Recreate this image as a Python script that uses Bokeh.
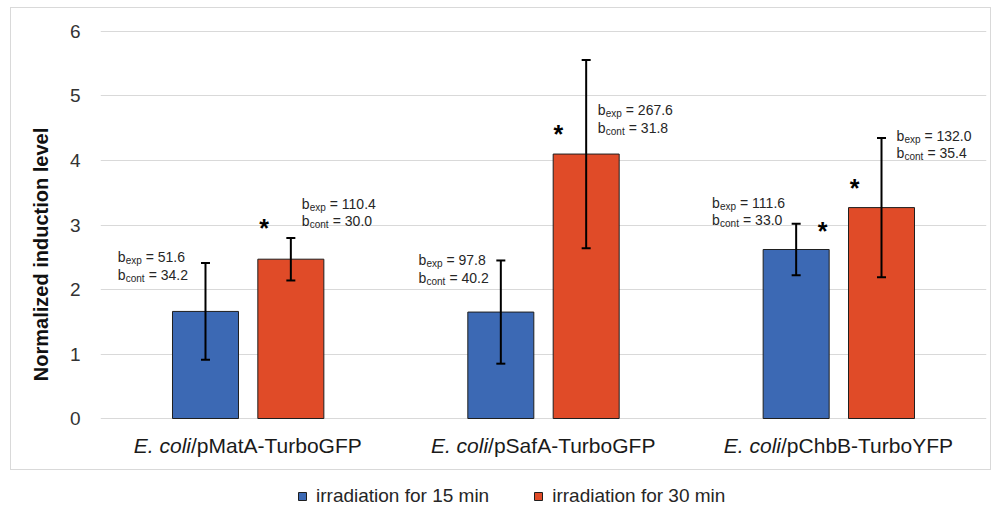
from bokeh.plotting import figure
from bokeh.models import (Range1d, FixedTicker, ColumnDataSource, Whisker, TeeHead,
                          Legend, LegendItem, InlineStyleSheet)
from bokeh.core.properties import value
from bokeh.embed import file_html
from bokeh.resources import INLINE

# ---------------- data ----------------
species = "E. coli"
strains = ["/pMatA-TurboGFP", "/pSafA-TurboGFP", "/pChbB-TurboYFP"]
series = ["irradiation for 15 min", "irradiation for 30 min"]
y_ticks = [0, 1, 2, 3, 4, 5, 6]

mean_15 = [1.66, 1.65, 2.62]
err_15 = [0.75, 0.80, 0.40]
mean_30 = [2.47, 4.10, 3.27]
err_30 = [0.33, 1.46, 1.08]

bexp_15 = [51.6, 97.8, 111.6]
bcont_15 = [34.2, 40.2, 33.0]
bexp_30 = [110.4, 267.6, 132.0]
bcont_30 = [30.0, 31.8, 35.4]

signif_15 = [False, False, True]
signif_30 = [True, True, True]

# ---------------- layout / style ----------------
FONT = "Liberation Sans"
BLUE = "#3C69B4"
RED = "#E04B28"
BAR_W = 0.2235
BAR_SHIFT = 0.1445
Y_VIEW = (-1.3953, 6.4806)      # frame spans whole height; 0..6 lie at 418..31 px
# annotation pixel offsets relative to (bar centre, error-bar top)
ann_dx_15 = [-87.8, -82.4, -84.1]
ann_dy_15 = [-5.9, 0.0, -21.2]
ann_dx_30 = [10.9, 11.6, 14.9]
ann_dy_30 = [-34.4, 50.6, -2.4]
star_dx_15 = [0, 0, 26.5]
star_dy_15 = [0, 0, -7.2]
star_dx_30 = [-26.8, -27.7, -26.8]
star_dy_30 = [-24.0, 60.6, 35.9]
split_dx = [-57.2, -55.4, -57.8]

p = figure(width=1000, height=508, x_range=Range1d(0, 3), y_range=Range1d(*Y_VIEW),
           output_backend="svg", toolbar_location=None,
           min_border_left=100, min_border_right=14, min_border_top=0, min_border_bottom=0,
           background_fill_color="white", border_fill_color="white", outline_line_color=None)

# outer light-grey frame around the chart area (not the legend)
p.stylesheets = [InlineStyleSheet(css=(
    ":host{position:relative;}"
    ":host::after{content:'';position:absolute;left:10px;top:7px;width:981px;height:463px;"
    "border:1px solid #d9d9d9;box-sizing:border-box;pointer-events:none;}"))]

p.xaxis.visible = False
p.xgrid.visible = False
ax = p.yaxis[0]
ax.ticker = FixedTicker(ticks=y_ticks)
ax.bounds = (y_ticks[0], y_ticks[-1])
ax.axis_line_color = None
ax.major_tick_line_color = None
ax.minor_tick_line_color = None
ax.major_tick_out = 0
ax.major_tick_in = 0
ax.major_label_standoff = 20
ax.major_label_text_font = FONT
ax.major_label_text_font_size = "19px"
ax.major_label_text_color = "#333333"
ax.axis_label = "Normalized induction level"
ax.axis_label_text_font = FONT
ax.axis_label_text_font_style = "bold"
ax.axis_label_text_font_size = "20px"
ax.axis_label_text_color = "#111111"
ax.axis_label_standoff = 15
p.ygrid.ticker = FixedTicker(ticks=y_ticks)
p.ygrid.grid_line_color = "#d9d9d9"
p.ygrid.grid_line_width = 1

renderers = []
for k, (means, errs, color, bexp, bcont, adx, ady, sig, sdx, sdy) in enumerate([
        (mean_15, err_15, BLUE, bexp_15, bcont_15, ann_dx_15, ann_dy_15, signif_15, star_dx_15, star_dy_15),
        (mean_30, err_30, RED, bexp_30, bcont_30, ann_dx_30, ann_dy_30, signif_30, star_dx_30, star_dy_30)]):
    shift = -BAR_SHIFT if k == 0 else BAR_SHIFT
    xs = [i + 0.5 + shift for i in range(len(means))]
    upper = [m + e for m, e in zip(means, errs)]
    lower = [m - e for m, e in zip(means, errs)]
    src = ColumnDataSource(dict(x=xs, top=means, upper=upper, lower=lower))
    r = p.vbar(x="x", top="top", width=BAR_W, source=src, fill_color=color,
               line_color="#1f1f1f", line_width=1)
    renderers.append(r)
    p.add_layout(Whisker(base="x", upper="upper", lower="lower", source=src,
                         line_color="black", line_width=2, level="annotation",
                         upper_head=TeeHead(size=9, line_width=2, line_color="black"),
                         lower_head=TeeHead(size=9, line_width=2, line_color="black")))

    # b annotations
    bx, by, bxo, byo = [], [], [], []
    sx, sy, sxo, syo, stx = [], [], [], [], []
    vx, vy, vxo, vyo, vtx = [], [], [], [], []
    for i in range(len(means)):
        for line, (sub, val) in enumerate([("exp", bexp[i]), ("cont", bcont[i])]):
            dy = ady[i] + 17.5 * line
            bx.append(xs[i]); by.append(upper[i]); bxo.append(adx[i]); byo.append(dy)
            sx.append(xs[i]); sy.append(upper[i]); sxo.append(adx[i] + 8); syo.append(dy + 3.5); stx.append(sub)
            vx.append(xs[i]); vy.append(upper[i])
            vxo.append(adx[i] + (28 if sub == "exp" else 31)); vyo.append(dy)
            vtx.append(f"= {val:.1f}")
    p.text(x=bx, y=by, x_offset=bxo, y_offset=byo, text=["b"] * len(bx),
           text_font=value(FONT), text_font_size="14px", text_color="#262626",
           text_align="left", text_baseline="alphabetic")
    p.text(x=sx, y=sy, x_offset=sxo, y_offset=syo, text=stx,
           text_font=value(FONT), text_font_size="10px", text_color="#262626",
           text_align="left", text_baseline="alphabetic")
    p.text(x=vx, y=vy, x_offset=vxo, y_offset=vyo, text=vtx,
           text_font=value(FONT), text_font_size="14px", text_color="#262626",
           text_align="left", text_baseline="alphabetic")
    # significance stars
    st_x = [xs[i] for i in range(len(means)) if sig[i]]
    st_y = [upper[i] for i in range(len(means)) if sig[i]]
    st_xo = [sdx[i] for i in range(len(means)) if sig[i]]
    st_yo = [sdy[i] + 14 for i in range(len(means)) if sig[i]]
    p.text(x=st_x, y=st_y, x_offset=st_xo, y_offset=st_yo, text=["*"] * len(st_x),
           text_font=value(FONT), text_font_size="25px", text_font_style="bold",
           text_color="black", text_align="center", text_baseline="alphabetic")

# category labels (italic species + regular strain), below the 0 line
cat_x = [i + 0.5 for i in range(len(strains))]
cat_y = [y_ticks[0]] * len(strains)
p.text(x=cat_x, y=cat_y, x_offset=split_dx, y_offset=[27] * len(strains),
       text=[species] * len(strains), text_font=value(FONT), text_font_style="italic",
       text_font_size="21px", text_color="#1a1a1a", text_align="right", text_baseline="middle")
p.text(x=cat_x, y=cat_y, x_offset=split_dx, y_offset=[27] * len(strains),
       text=strains, text_font=value(FONT),
       text_font_size="21px", text_color="#1a1a1a", text_align="left", text_baseline="middle")

legend = Legend(items=[LegendItem(label=series[0], renderers=[renderers[0]]),
                       LegendItem(label=series[1], renderers=[renderers[1]])],
                orientation="horizontal", location=(197, 1),
                glyph_width=10, glyph_height=10, label_standoff=9, spacing=44,
                label_height=18, padding=0, margin=0, border_line_color=None,
                background_fill_alpha=0,
                label_text_font=FONT, label_text_font_size="19px", label_text_color="#262626")
p.add_layout(legend)

open("out.html", "w").write(file_html(p, INLINE))
